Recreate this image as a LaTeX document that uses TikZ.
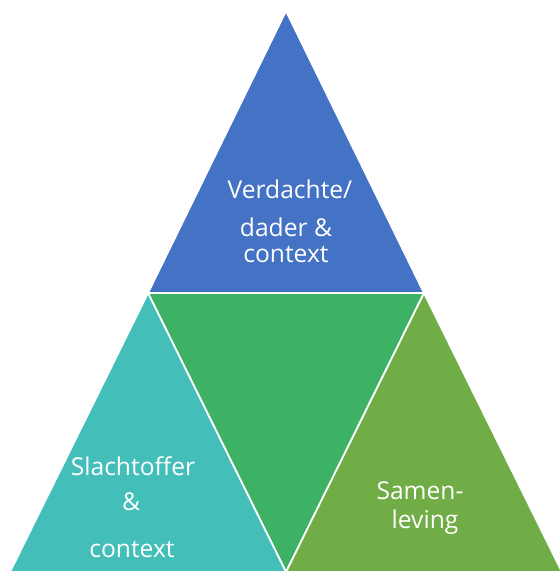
\documentclass[tikz,border=0pt]{standalone}
\usepackage{fontspec}
\setmainfont{Open Sans}
\usepackage{tikz}
\usetikzlibrary{calc}

\definecolor{vblue}{HTML}{4472C4}
\definecolor{mgreen}{HTML}{3DB265}
\definecolor{scyan}{HTML}{43BEB9}
\definecolor{rgreen}{HTML}{70AD47}

\tikzset{
 tri/.style={draw=white, line width=1pt, line join=miter},
 lbl/.style={text=white, anchor=base, inner sep=0pt, font=\fontsize{14}{16}\selectfont}
}

\begin{document}
\begin{tikzpicture} [x=0.02cm, y=-0.02cm]
\useasboundingbox (0,0) rectangle (560,572);
\clip (0,0) rectangle (560,572);

\coordinate (top) at (286,11);
\coordinate (ml) at (148,293);
\coordinate (mr) at (424,293);
\coordinate (bm) at (286,572);
\coordinate (bl) at (10,572);
\coordinate (br) at (562,572);

\filldraw[tri, fill=vblue] (top) -- (ml) -- (mr) -- cycle;
\filldraw[tri, fill=mgreen] (ml) -- (mr) -- (bm) -- cycle;
\filldraw[tri, fill=scyan] (ml) -- (bl) -- (bm) -- cycle;
\filldraw[tri, fill=rgreen] (mr) -- (bm) -- (br) -- cycle;

\node[lbl] (verd) at (290,198) {Verdachte/};
\node[lbl] (dader) at (286,236) {dader \&};
\node[lbl] (ctx1) at (286,262) {context};

\node[lbl] (slacht) at (133,475) {Slachtoffer};
\node[lbl] (amp) at (131,510) {\&};
\node[lbl] (ctx2) at (132,557) {context};

\node[lbl] (samen) at (420,499) {Samen-};
\node[lbl] (leving) at (425,528) {leving};

\end{tikzpicture}
\end{document}
